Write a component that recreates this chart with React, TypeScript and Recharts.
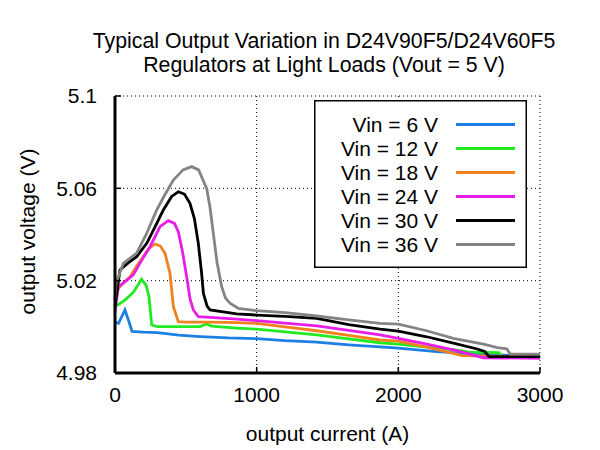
import { CartesianGrid, Legend, Line, LineChart, XAxis, YAxis } from "recharts";

// output current (A) / output voltage (V), one pair of arrays per input voltage
const vin6Current = [0, 25, 70, 100, 120, 200, 300, 450, 600, 800, 1000, 1200, 1424, 1650, 1871, 2000, 2270, 2500, 2700, 3000];
const vin6Voltage = [5.002, 5.0015, 5.0073, 5.002, 4.998, 4.9977, 4.9975, 4.9964, 4.9958, 4.9952, 4.9949, 4.994, 4.9934, 4.9922, 4.9913, 4.9908, 4.9893, 4.9884, 4.9878, 4.9872];

const vin12Current = [0, 70, 130, 188, 220, 240, 259, 300, 435, 600, 647, 680, 859, 1000, 1200, 1424, 1650, 1871, 2000, 2200, 2400, 2500, 2710, 2730, 3000];
const vin12Voltage = [5.0087, 5.0116, 5.015, 5.0206, 5.018, 5.013, 5.0008, 5.0001, 5.0001, 5.0001, 5.0012, 5.0003, 4.9994, 4.999, 4.9978, 4.9965, 4.9948, 4.9931, 4.9925, 4.9912, 4.99, 4.989, 4.9888, 4.9872, 4.987];

const vin18Current = [0, 12, 60, 106, 150, 200, 240, 282, 320, 353, 388, 412, 447, 500, 671, 859, 1000, 1200, 1424, 1650, 1871, 2000, 2200, 2388, 2450, 3000];
const vin18Voltage = [5.012, 5.016, 5.019, 5.0217, 5.026, 5.0304, 5.034, 5.0359, 5.035, 5.0319, 5.0232, 5.0087, 5.0022, 5.002, 5.002, 5.0018, 5.0015, 5.0, 4.9983, 4.9963, 4.9943, 4.9938, 4.9912, 4.9885, 4.9875, 4.987];

const vin24Current = [0, 24, 80, 129, 190, 247, 318, 376, 420, 447, 475, 506, 530, 553, 588, 700, 859, 1000, 1200, 1424, 1650, 1871, 2000, 2200, 2388, 2506, 2600, 3000];
const vin24Voltage = [5.0066, 5.0174, 5.02, 5.0225, 5.029, 5.0347, 5.0434, 5.046, 5.0448, 5.0412, 5.033, 5.0217, 5.012, 5.0073, 5.0044, 5.004, 5.0033, 5.0027, 5.0016, 5.0004, 4.9985, 4.9965, 4.995, 4.9925, 4.99, 4.9882, 4.9866, 4.9864];

const vin30Current = [0, 35, 100, 153, 224, 280, 341, 400, 447, 490, 529, 560, 588, 610, 624, 650, 671, 859, 1000, 1200, 1424, 1650, 1871, 2000, 2200, 2388, 2550, 2610, 2640, 3000];
const vin30Voltage = [5.009, 5.0246, 5.028, 5.0304, 5.0362, 5.043, 5.0506, 5.0565, 5.0585, 5.0575, 5.0535, 5.047, 5.0362, 5.024, 5.0145, 5.009, 5.0073, 5.0056, 5.0051, 5.0045, 5.0037, 5.001, 4.999, 4.9981, 4.9957, 4.9929, 4.9905, 4.9893, 4.9871, 4.9871];

const vin36Current = [0, 7, 59, 153, 220, 294, 350, 412, 480, 541, 590, 647, 670, 694, 720, 753, 780, 812, 871, 1000, 1200, 1424, 1650, 1871, 2000, 2200, 2388, 2600, 2700, 2765, 2790, 3000];
const vin36Voltage = [5.011, 5.0189, 5.0275, 5.0319, 5.04, 5.0506, 5.057, 5.0636, 5.068, 5.0694, 5.068, 5.06, 5.052, 5.0405, 5.028, 5.0174, 5.0125, 5.0102, 5.008, 5.007, 5.0062, 5.0047, 5.003, 5.0015, 5.0012, 4.9983, 4.995, 4.9925, 4.991, 4.9905, 4.9882, 4.9882];

const seriesNames = ["Vin = 6 V", "Vin = 12 V", "Vin = 18 V", "Vin = 24 V", "Vin = 30 V", "Vin = 36 V"];
const seriesColors = ["#1c7fe3", "#22ea22", "#f0821e", "#e81ee8", "#000000", "#848484"];

const xTicks = [0, 1000, 2000, 3000];
const yTicks = [4.98, 5.02, 5.06, 5.1];

const titleLines = ["Typical Output Variation in D24V90F5/D24V60F5", "Regulators at Light Loads (Vout = 5 V)"];

const zip = (xs: number[], ys: number[]) => xs.map((x, i) => ({ current: x, voltage: ys[i] }));

const seriesData = [
  zip(vin6Current, vin6Voltage),
  zip(vin12Current, vin12Voltage),
  zip(vin18Current, vin18Voltage),
  zip(vin24Current, vin24Voltage),
  zip(vin30Current, vin30Voltage),
  zip(vin36Current, vin36Voltage),
];

const FONT = '"Liberation Sans", Arial, Helvetica, sans-serif';

const renderLegend = (props: any) => {
  // keep the series order (recharts sorts legend items by name otherwise)
  const items = [...(props.payload || [])].sort(
    (a: any, b: any) => seriesNames.indexOf(a.value) - seriesNames.indexOf(b.value)
  );
  return (
    <svg width={213} height={168} style={{ display: "block" }}>
      <rect x={0.75} y={0.75} width={211.5} height={166.5} fill="#fff" stroke="#000" strokeWidth={1.5} />
      {items.map((item: any, i: number) => (
        <g key={item.value}>
          <text
            x={124}
            y={24 + 24 * i}
            textAnchor="end"
            dominantBaseline="central"
            fontSize={21}
            fontFamily={FONT}
            fill="#000"
          >
            {item.value}
          </text>
          <line x1={142} x2={201} y1={24.5 + 24 * i} y2={24.5 + 24 * i} stroke={item.color} strokeWidth={3} />
        </g>
      ))}
    </svg>
  );
};

const YTitle = (props: any) => {
  const vb = props.viewBox || { x: 0, y: 0, height: 0 };
  const cx = vb.x + 27;
  const cy = vb.y + vb.height / 2 - 3;
  return (
    <text
      x={cx}
      y={cy}
      transform={`rotate(-90 ${cx} ${cy})`}
      textAnchor="middle"
      dominantBaseline="central"
      fontSize={21}
      fontFamily={FONT}
      fill="#000"
    >
      output voltage (V)
    </text>
  );
};

export default function App() {
  return (
    <div style={{ position: "absolute", left: 0, top: 0, width: 600, height: 450, background: "#fff", fontFamily: FONT }}>
      <LineChart width={600} height={450} margin={{ top: 96, right: 60, bottom: 37, left: 0 }}>
        <CartesianGrid stroke="#000" strokeDasharray="1 3" />
        <XAxis
          type="number"
          dataKey="current"
          domain={[0, 3000]}
          ticks={xTicks}
          height={40}
          axisLine={{ stroke: "#000", strokeWidth: 3 }}
          tickLine={{ stroke: "#000", strokeWidth: 1.5 }}
          tickSize={-6}
          tickMargin={20}
          tick={{ fill: "#000", fontSize: 21, fontFamily: FONT }}
          label={{ value: "output current (A)", position: "bottom", offset: 13, fill: "#000", fontSize: 21, fontFamily: FONT }}
        />
        <YAxis
          type="number"
          domain={[4.98, 5.1]}
          ticks={yTicks}
          width={115}
          axisLine={{ stroke: "#000", strokeWidth: 3 }}
          tickLine={{ stroke: "#000", strokeWidth: 1.5 }}
          tickSize={-6}
          tickMargin={24}
          tick={{ fill: "#000", fontSize: 21, fontFamily: FONT }}
          label={<YTitle />}
        />
        <Legend
          layout="vertical"
          align="center"
          verticalAlign="middle"
          content={renderLegend}
          wrapperStyle={{ left: 314, top: 100, width: 213, height: 168 }}
        />
        {seriesData.map((d, i) => (
          <Line
            key={seriesNames[i]}
            data={d}
            dataKey="voltage"
            name={seriesNames[i]}
            type="linear"
            stroke={seriesColors[i]}
            strokeWidth={2.8}
            dot={false}
            activeDot={false}
            isAnimationActive={false}
          />
        ))}
      </LineChart>
      <svg width={600} height={90} style={{ position: "absolute", left: 0, top: 0, pointerEvents: "none" }}>
        {titleLines.map((t, i) => (
          <text key={t} x={324} y={47.5 + 24.8 * i} textAnchor="middle" fontSize={21.3} fontFamily={FONT} fill="#000">
            {t}
          </text>
        ))}
      </svg>
    </div>
  );
}
